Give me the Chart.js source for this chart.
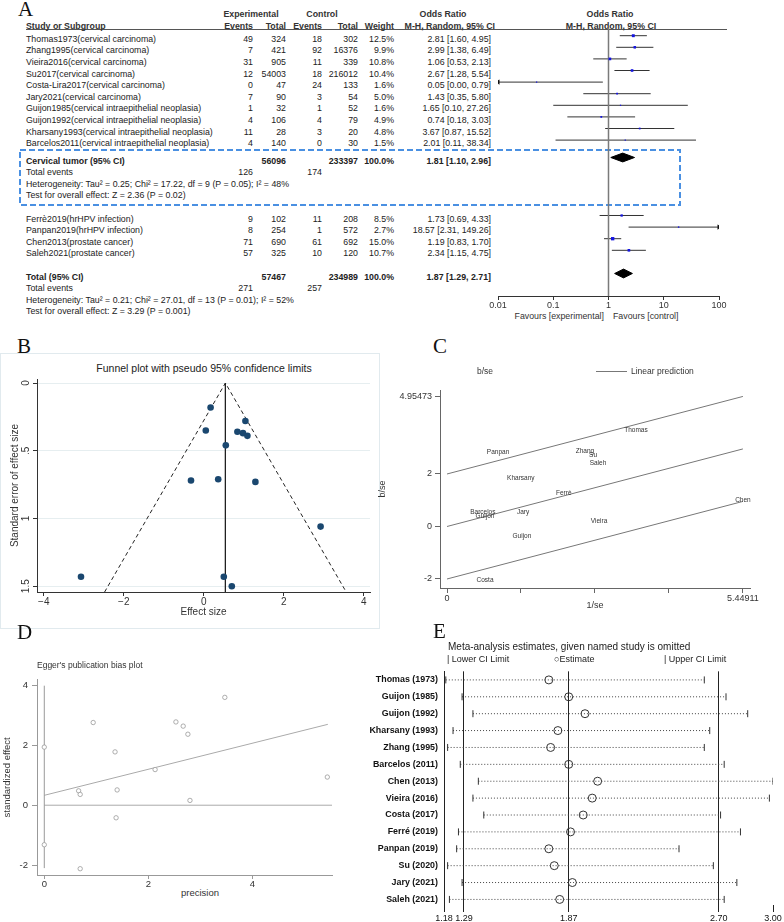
<!DOCTYPE html>
<html>
<head>
<meta charset="utf-8">
<script src="https://cdn.jsdelivr.net/npm/chart.js@4.4.1/dist/chart.umd.min.js"></script>
<style>
body { margin: 0; width: 784px; height: 922px; position: relative; overflow: hidden; background: #fff; font-family: 'Liberation Sans', Arial, sans-serif; }
canvas { position: absolute; }
.t { position: absolute; white-space: nowrap; line-height: 14px; font-size: 8.8px; color: #222; }
.letter { position: absolute; font-family: 'Liberation Serif', 'Times New Roman', serif; font-size: 21px; line-height: 22px; color: #111; }
</style>
</head>
<body>
<svg style="position:absolute;left:0;top:0" width="784" height="330">
  <rect x="20" y="150" width="660" height="55" fill="none" stroke="#4a90e2" stroke-width="2" stroke-dasharray="6 3"/>
</svg>
<div style="position:absolute;left:26px;top:29px;width:701px;height:1px;background:#555"></div>
<div style="position:absolute;left:0;top:353px;width:380px;height:276px;box-sizing:border-box;border:1px solid #e1eaee"></div>
<div style="position:absolute;left:596px;top:371px;width:31px;height:1px;background:#777"></div>
<script>
// ---------- A: forest plot ----------
const studies = ['Thomas1973(cervical carcinoma)', 'Zhang1995(cervical carcinoma)', 'Vieira2016(cervical carcinoma)',
  'Su2017(cervical carcinoma)', 'Costa-Lira2017(cervical carcinoma)', 'Jary2021(cervical carcinoma)',
  'Guijon1985(cervical intraepithelial neoplasia)', 'Guijon1992(cervical intraepithelial neoplasia)',
  'Kharsany1993(cervical intraepithelial neoplasia)', 'Barcelos2011(cervical intraepithelial neoplasia)',
  'Ferrè2019(hrHPV infection)', 'Panpan2019(hrHPV infection)', 'Chen2013(prostate cancer)', 'Saleh2021(prostate cancer)'];
const expEvents = [49, 7, 31, 12, 0, 7, 1, 4, 11, 4, 9, 8, 71, 57];
const expTotal = [324, 421, 905, 54003, 47, 90, 32, 106, 28, 140, 102, 254, 690, 325];
const ctlEvents = [18, 92, 11, 18, 24, 3, 1, 4, 3, 0, 11, 1, 61, 10];
const ctlTotal = [302, 16376, 339, 216012, 133, 54, 52, 79, 20, 30, 208, 572, 692, 120];
const weights = [12.5, 9.9, 10.8, 10.4, 1.6, 5.0, 1.6, 4.9, 4.8, 1.5, 8.5, 2.7, 15.0, 10.7];
const orEst = [2.81, 2.99, 1.06, 2.67, 0.05, 1.43, 1.65, 0.74, 3.67, 2.01, 1.73, 18.57, 1.19, 2.34];
const orLow = [1.60, 1.38, 0.53, 1.28, 0.00, 0.35, 0.10, 0.18, 0.87, 0.11, 0.69, 2.31, 0.83, 1.15];
const orHigh = [4.95, 6.49, 2.13, 5.54, 0.79, 5.80, 27.26, 3.03, 15.52, 38.34, 4.33, 149.26, 1.70, 4.75];
const cervicalCount = 10;

const pooledNames = ['Cervical tumor (95% CI)', 'Total (95% CI)'];
const pooledExpTotal = [56096, 57467];
const pooledCtlTotal = [233397, 234989];
const pooledWeight = [100.0, 100.0];
const pooledExpEvents = [126, 271];
const pooledCtlEvents = [174, 257];
const pooledOR = [1.81, 1.87];
const pooledLow = [1.10, 1.29];
const pooledHigh = [2.96, 2.71];
const heterogeneity = ['Heterogeneity: Tau² = 0.25; Chi² = 17.22, df = 9 (P = 0.05); I² = 48%',
  'Heterogeneity: Tau² = 0.21; Chi² = 27.01, df = 13 (P = 0.01); I² = 52%'];
const overallTest = ['Test for overall effect: Z = 2.36 (P = 0.02)', 'Test for overall effect: Z = 3.29 (P = 0.001)'];
const forestTicks = [0.01, 0.1, 1, 10, 100];

// ---------- B: funnel plot ----------
const funnelES = [0.17, 1.04, 0.05, 0.84, 0.98, 1.09, 0.55, -0.32, 0.36, 1.29, 2.92, -3.07, 0.50, 0.70];
const funnelSE = [0.18, 0.28, 0.35, 0.36, 0.37, 0.39, 0.46, 0.72, 0.71, 0.73, 1.06, 1.43, 1.43, 1.50];
const funnelCentre = 0.54;
const funnelLimitX = [-2.48, 3.56];
const funnelLimitSE = 1.543;
const funnelTicksX = [-4, -2, 0, 2, 4];
const funnelTicksY = [0, 0.5, 1, 1.5];

// ---------- C: Galbraith plot ----------
const galbraithNames = ['Thomas', 'Panpan', 'Zhang', 'Su', 'Saleh', 'Kharsany', 'Ferrè', 'Barcelos', 'Guijon', 'Jary', 'Vieira', 'Chen', 'Guijon', 'Costa'];
const galbraithX = [3.48, 0.94, 2.54, 2.69, 2.78, 1.36, 2.15, 0.66, 0.70, 1.40, 2.80, 5.45, 1.38, 0.70];
const galbraithY = [3.68, 2.83, 2.85, 2.70, 2.43, 1.84, 1.26, 0.54, 0.41, 0.56, 0.22, 1.01, -0.36, -2.06];
const predX = [0, 5.44911];
const predUpper = [2, 4.95473];
const predMid = [0, 2.955];
const predLower = [-2, 0.955];
const galbraithTicksX = [0, 1.36228, 2.72456, 4.08683, 5.44911];
const galbraithLabelledX = [0, 5.44911];
const galbraithTicksY = [-2, 0, 2, 4.95473];

// ---------- D: Egger plot ----------
const eggerPrecision = [0.94, 1.36, 0.66, 0.69, 1.40, 1.38, 0.69, 2.13, 2.53, 2.67, 2.76, 2.80, 3.47, 5.44];
const eggerEffect = [2.76, 1.78, 0.48, 0.36, 0.51, -0.42, -2.12, 1.19, 2.78, 2.64, 2.37, 0.16, 3.60, 0.94];
const eggerInterceptCI = [-1.32, 1.94];
const eggerFitX = [0, 5.45];
const eggerFitY = [0.33, 2.70];
const eggerVLine = [-2.10, 3.99];
const eggerZeroEnd = 5.53;
const eggerTicksX = [0, 2, 4];
const eggerTicksY = [-2, 0, 2, 4];

// ---------- E: leave-one-out ----------
const looNames = ['Thomas (1973)', 'Guijon (1985)', 'Guijon (1992)', 'Kharsany (1993)', 'Zhang (1995)', 'Barcelos (2011)',
  'Chen (2013)', 'Vieira (2016)', 'Costa (2017)', 'Ferré (2019)', 'Panpan (2019)', 'Su (2020)', 'Jary (2021)', 'Saleh (2021)'];
const looEst = [1.76, 1.87, 1.96, 1.81, 1.77, 1.87, 2.03, 2.00, 1.95, 1.88, 1.76, 1.79, 1.89, 1.82];
const looLow = [1.19, 1.28, 1.34, 1.23, 1.20, 1.27, 1.37, 1.34, 1.40, 1.26, 1.25, 1.20, 1.28, 1.21];
const looHigh = [2.62, 2.74, 2.86, 2.65, 2.62, 2.73, 3.00, 2.98, 2.71, 2.82, 2.48, 2.67, 2.80, 2.73];
const looTicks = [1.18, 1.29, 1.87, 2.70, 3.00];
const looRefLines = [1.29, 1.87, 2.70];

// ---------- helpers ----------
Chart.defaults.font.family = "'Liberation Sans', Arial, sans-serif";
Chart.defaults.color = '#333';

function txt(s, x, y, opt = {}) {
  const d = document.createElement('div');
  d.className = 't';
  d.textContent = s;
  d.style.left = x + 'px';
  d.style.top = (y - 7) + 'px';
  if (opt.align === 'right') d.style.transform = 'translateX(-100%)';
  if (opt.align === 'center') d.style.transform = 'translateX(-50%)';
  if (opt.bold) d.style.fontWeight = 'bold';
  if (opt.size) d.style.fontSize = opt.size + 'px';
  if (opt.color) d.style.color = opt.color;
  document.body.appendChild(d);
}
function letter(s, x, baseline) {
  const d = document.createElement('div');
  d.className = 'letter';
  d.textContent = s;
  d.style.left = x + 'px';
  d.style.top = (baseline - 18) + 'px';
  document.body.appendChild(d);
}
function makeCanvas(left, top, w, h) {
  const c = document.createElement('canvas');
  c.width = w; c.height = h;
  c.style.left = left + 'px'; c.style.top = top + 'px';
  document.body.appendChild(c);
  return c;
}
const seg = (x0, y0, x1, y1) => [{ x: x0, y: y0 }, { x: x1, y: y1 }];
// lines get order 1 so that markers (order 0) are drawn on top of them
function lineDs(data, color, width = 1, dash = []) {
  return { data, showLine: true, borderColor: color, borderWidth: width, borderDash: dash, pointRadius: 0, fill: false, order: 1 };
}
const fixTicks = vals => s => { s.ticks = vals.map(v => ({ value: v })); };
const base = { responsive: false, animation: false, events: [], plugins: { legend: { display: false }, tooltip: { enabled: false } } };

const rotatedYTicks = {
  id: 'rotatedYTicks',
  afterDraw(chart, args, opts) {
    if (!opts.show) return;
    const s = chart.scales.y, ctx = chart.ctx;
    ctx.save();
    ctx.font = "10px 'Liberation Sans', Arial";
    ctx.fillStyle = '#333';
    ctx.textAlign = 'center';
    ctx.textBaseline = 'bottom';
    s.ticks.forEach(t => {
      ctx.save();
      ctx.translate(s.right - 6, s.getPixelForValue(t.value));
      ctx.rotate(-Math.PI / 2);
      ctx.fillText(String(t.value).replace(/^0\./, '.'), 0, 0);
      ctx.restore();
    });
    ctx.restore();
  }
};
const pointLabels = {
  id: 'pointLabels',
  afterDatasetsDraw(chart, args, opts) {
    if (!opts.labels) return;
    const ctx = chart.ctx;
    const meta = chart.getDatasetMeta(opts.datasetIndex);
    ctx.save();
    ctx.font = "6.5px 'Liberation Sans', Arial";
    ctx.fillStyle = '#333';
    ctx.textAlign = 'center';
    ctx.textBaseline = 'middle';
    meta.data.forEach((p, i) => ctx.fillText(opts.labels[i], p.x, p.y));
    ctx.restore();
  }
};

// ---------- A: table text ----------
letter('A', 18, 16);
const rowY = r => 38.7 + 11.6 * r;
const rowOf = i => i < cervicalCount ? i : i + 5.5;
const pooledRow = [10.5, 20.5];
const fmt2 = v => v.toFixed(2);
const orText = (m, l, h) => `${fmt2(m)} [${fmt2(l)}, ${fmt2(h)}]`;

const hb = { bold: true, color: '#333' };
txt('Experimental', 251, 14, { ...hb, align: 'center' });
txt('Control', 322, 14, { ...hb, align: 'center' });
txt('Odds Ratio', 443, 14, { ...hb, align: 'center' });
txt('Odds Ratio', 610, 14, { ...hb, align: 'center' });
txt('Study or Subgroup', 26, 26, hb);
txt('Events', 253, 26, { ...hb, align: 'right' });
txt('Total', 286, 26, { ...hb, align: 'right' });
txt('Events', 322, 26, { ...hb, align: 'right' });
txt('Total', 358, 26, { ...hb, align: 'right' });
txt('Weight', 394, 26, { ...hb, align: 'right' });
txt('M-H, Random, 95% CI', 495, 26, { ...hb, align: 'right' });
txt('M-H, Random, 95% CI', 611, 26, { ...hb, align: 'center' });

studies.forEach((name, i) => {
  const y = rowY(rowOf(i));
  txt(name, 26, y);
  txt(String(expEvents[i]), 253, y, { align: 'right' });
  txt(String(expTotal[i]), 286, y, { align: 'right' });
  txt(String(ctlEvents[i]), 322, y, { align: 'right' });
  txt(String(ctlTotal[i]), 358, y, { align: 'right' });
  txt(weights[i].toFixed(1) + '%', 394, y, { align: 'right' });
  txt(orText(orEst[i], orLow[i], orHigh[i]), 491, y, { align: 'right' });
});
pooledNames.forEach((name, k) => {
  const r = pooledRow[k];
  txt(name, 26, rowY(r), { bold: true });
  txt(String(pooledExpTotal[k]), 286, rowY(r), { align: 'right', bold: true });
  txt(String(pooledCtlTotal[k]), 358, rowY(r), { align: 'right', bold: true });
  txt(pooledWeight[k].toFixed(1) + '%', 394, rowY(r), { align: 'right', bold: true });
  txt(orText(pooledOR[k], pooledLow[k], pooledHigh[k]), 491, rowY(r), { align: 'right', bold: true });
  txt('Total events', 26, rowY(r + 1));
  txt(String(pooledExpEvents[k]), 253, rowY(r + 1), { align: 'right' });
  txt(String(pooledCtlEvents[k]), 322, rowY(r + 1), { align: 'right' });
  txt(heterogeneity[k], 26, rowY(r + 2));
  txt(overallTest[k], 26, rowY(r + 3));
});
txt('Favours [experimental]', 604, 316, { align: 'right', color: '#333' });
txt('Favours [control]', 613, 316, { color: '#333' });

// ---------- A: forest chart ----------
const fMin = forestTicks[0], fMax = forestTicks[forestTicks.length - 1];
const forestYMin = -0.664, forestYMax = 22.44;
const forestDs = [lineDs(seg(1, forestYMin, 1, forestYMax), '#7a7a7a', 1.5)];
studies.forEach((s, i) => forestDs.push(
  lineDs(seg(Math.max(orLow[i], fMin), rowOf(i), Math.min(orHigh[i], fMax), rowOf(i)), '#333', 1)));
forestDs.push({
  data: studies.map((s, i) => ({ x: orEst[i], y: rowOf(i) })),
  pointStyle: 'rect', pointRadius: weights.map(w => 0.7 + w * 0.11),
  backgroundColor: '#1414e0', borderWidth: 0
});
const clipped = studies.map((s, i) => i).filter(i => orLow[i] < fMin || orHigh[i] > fMax);
forestDs.push({
  data: clipped.map(i => ({ x: orLow[i] < fMin ? fMin : fMax, y: rowOf(i) })),
  pointStyle: 'triangle', pointRotation: clipped.map(i => orLow[i] < fMin ? -90 : 90),
  pointRadius: 3, backgroundColor: '#111', borderWidth: 0
});
pooledOR.forEach((m, k) => {
  const r = pooledRow[k];
  forestDs.push({
    data: [{ x: pooledLow[k], y: r }, { x: m, y: r - 0.38 }, { x: pooledHigh[k], y: r }, { x: m, y: r + 0.38 }, { x: pooledLow[k], y: r }],
    showLine: true, fill: 'shape', backgroundColor: '#000', borderColor: '#000', borderWidth: 1, pointRadius: 0
  });
});
new Chart(makeCanvas(488, 24, 245, 294), {
  type: 'scatter',
  data: { datasets: forestDs },
  options: {
    ...base,
    layout: { padding: { left: 10, right: 14, top: 4, bottom: 2 } },
    scales: {
      x: {
        type: 'logarithmic', min: fMin, max: fMax,
        afterBuildTicks: fixTicks(forestTicks), afterFit: s => { s.height = 20; },
        ticks: { callback: v => String(v), font: { size: 9 }, color: '#333', padding: 0, autoSkip: false, maxRotation: 0 },
        grid: { drawOnChartArea: false, tickLength: 4, tickColor: '#333' },
        border: { color: '#333' }
      },
      y: { type: 'linear', reverse: true, min: forestYMin, max: forestYMax, display: false }
    }
  }
});

// ---------- B: funnel ----------
letter('B', 17, 353);
txt('Funnel plot with pseudo 95% confidence limits', 204, 368, { align: 'center', size: 10.5 });
new Chart(makeCanvas(0, 353, 380, 276), {
  type: 'scatter',
  data: {
    datasets: [
      { data: funnelES.map((v, i) => ({ x: v, y: funnelSE[i] })), pointRadius: 3.3, backgroundColor: '#1a476f', borderWidth: 0 },
      lineDs(seg(funnelCentre, 0, funnelCentre, funnelLimitSE), '#222', 1),
      lineDs([{ x: funnelLimitX[0], y: funnelLimitSE }, { x: funnelCentre, y: 0 }, { x: funnelLimitX[1], y: funnelLimitSE }], '#222', 1, [4, 3])
    ]
  },
  options: {
    ...base,
    layout: { padding: { left: 0, top: 26, right: 10, bottom: 8 } },
    plugins: { ...base.plugins, rotatedYTicks: { show: true } },
    scales: {
      x: {
        min: -4.17, max: 4.155, afterBuildTicks: fixTicks(funnelTicksX), afterFit: s => { s.height = 29; },
        ticks: { callback: v => v < 0 ? '\u2212' + (-v) : String(v), font: { size: 10 }, padding: 0, autoSkip: false, maxRotation: 0 },
        grid: { drawOnChartArea: false, tickLength: 4, tickColor: '#333' },
        border: { color: '#333' },
        title: { display: true, text: 'Effect size', font: { size: 10 }, padding: { top: 0, bottom: 3 } }
      },
      y: {
        reverse: true, min: -0.03, max: 1.543, afterBuildTicks: fixTicks(funnelTicksY), afterFit: s => { s.width = 37; },
        ticks: { display: false },
        grid: { color: '#e6eef0', tickLength: 4, tickColor: '#333' },
        border: { color: '#333' },
        title: { display: true, text: 'Standard error of effect size', font: { size: 10 }, padding: { top: 9, bottom: 0 } }
      }
    }
  },
  plugins: [rotatedYTicks]
});

// ---------- C: Galbraith ----------
letter('C', 433, 353);
txt('b/se', 477, 371, { size: 8.5, color: '#333' });
txt('Linear prediction', 631, 371, { size: 8.5, color: '#333' });
new Chart(makeCanvas(375, 380, 409, 240), {
  type: 'scatter',
  data: {
    datasets: [
      { data: galbraithX.map((v, i) => ({ x: v, y: galbraithY[i] })), pointRadius: 0 },
      lineDs(seg(predX[0], predUpper[0], predX[1], predUpper[1]), '#777', 1),
      lineDs(seg(predX[0], predMid[0], predX[1], predMid[1]), '#777', 1),
      lineDs(seg(predX[0], predLower[0], predX[1], predLower[1]), '#777', 1)
    ]
  },
  options: {
    ...base,
    layout: { padding: { left: 0, top: 10, right: 34, bottom: 0 } },
    plugins: { ...base.plugins, pointLabels: { labels: galbraithNames, datasetIndex: 0 } },
    scales: {
      x: {
        min: -0.129, max: 5.58, afterBuildTicks: fixTicks(galbraithTicksX), afterFit: s => { s.height = 32; },
        ticks: { callback: v => galbraithLabelledX.includes(v) ? String(v) : '', font: { size: 9 }, padding: 0, autoSkip: false, maxRotation: 0 },
        grid: { drawOnChartArea: false, tickLength: 5, tickColor: '#666' },
        border: { color: '#666' },
        title: { display: true, text: '1/se', font: { size: 9 }, padding: { top: 0, bottom: 8.6 } }
      },
      y: {
        min: -2.343, max: 5.2, afterBuildTicks: fixTicks(galbraithTicksY), afterFit: s => { s.width = 65; },
        ticks: { callback: v => String(v), font: { size: 9 }, padding: 3, autoSkip: false },
        grid: { drawOnChartArea: false, tickLength: 5, tickColor: '#666' },
        border: { color: '#666' },
        title: { display: true, text: 'b/se', font: { size: 9 }, padding: { top: 2.6, bottom: 0 } }
      }
    }
  },
  plugins: [pointLabels]
});

// ---------- D: Egger ----------
letter('D', 17, 639);
txt("Egger's publication bias plot", 37, 665, { size: 8.5, color: '#333' });
txt('precision', 200, 893, { align: 'center', size: 9.5, color: '#333' });
const hollow = { pointRadius: 2.2, pointStyle: 'circle', borderColor: '#999', borderWidth: 0.8, backgroundColor: '#fff' };
new Chart(makeCanvas(0, 670, 345, 235), {
  type: 'scatter',
  data: {
    datasets: [
      { data: eggerPrecision.map((v, i) => ({ x: v, y: eggerEffect[i] })), ...hollow },
      { data: eggerInterceptCI.map(v => ({ x: 0, y: v })), ...hollow },
      lineDs(seg(0, eggerVLine[0], 0, eggerVLine[1]), '#999', 1),
      lineDs(seg(0, 0, eggerZeroEnd, 0), '#aaa', 1),
      lineDs(seg(eggerFitX[0], eggerFitY[0], eggerFitX[1], eggerFitY[1]), '#aaa', 1)
    ]
  },
  options: {
    ...base,
    layout: { padding: { left: 0, top: 7, right: 13, bottom: 0 } },
    scales: {
      x: {
        min: -0.14, max: 5.53, afterBuildTicks: fixTicks(eggerTicksX), afterFit: s => { s.height = 30; },
        ticks: { font: { size: 9.5 }, padding: 0, autoSkip: false, maxRotation: 0 },
        grid: { drawOnChartArea: false, tickLength: 4, tickColor: '#999' },
        border: { color: '#999' }
      },
      y: {
        min: -2.33, max: 4.19, afterBuildTicks: fixTicks(eggerTicksY), afterFit: s => { s.width = 37; },
        ticks: { font: { size: 9.5 }, padding: 4, autoSkip: false },
        grid: { drawOnChartArea: false, tickLength: 5, tickColor: '#999' },
        border: { color: '#999' },
        title: { display: true, text: 'standardized effect', font: { size: 9.5 }, padding: { top: 2, bottom: 0 } }
      }
    }
  }
});

// ---------- E: leave-one-out ----------
letter('E', 433, 638);
txt('Meta-analysis estimates, given named study is omitted', 448, 647, { size: 10 });
txt('| Lower CI Limit', 447, 659, { size: 9 });
txt('\u25CBEstimate', 554, 659, { size: 9 });
txt('| Upper CI Limit', 664, 659, { size: 9 });
const looDs = [
  {
    data: looEst.map((v, i) => ({ x: v, y: i })),
    pointStyle: 'circle', pointRadius: 4, borderColor: '#333', borderWidth: 1, backgroundColor: 'rgba(0,0,0,0)'
  },
  {
    data: looLow.map((v, i) => ({ x: v, y: i })).concat(looHigh.map((v, i) => ({ x: v, y: i }))),
    pointStyle: 'line', pointRotation: 90, pointRadius: 3.5, borderColor: '#333', borderWidth: 1
  }
];
looNames.forEach((n, i) => looDs.push(lineDs(seg(looLow[i], i, looHigh[i], i), '#444', 1, [1, 2])));
new Chart(makeCanvas(364, 660, 420, 262), {
  type: 'scatter',
  data: { datasets: looDs },
  options: {
    ...base,
    layout: { padding: { left: 0, top: 8, right: 11, bottom: 0 } },
    scales: {
      x: {
        min: looTicks[0], max: looTicks[looTicks.length - 1], afterBuildTicks: fixTicks(looTicks), afterFit: s => { s.height = 17; },
        ticks: { callback: v => v.toFixed(2), font: { size: 9 }, color: '#111', padding: 1, autoSkip: false, maxRotation: 0 },
        grid: { color: c => looRefLines.includes(c.tick && c.tick.value) ? '#222' : 'rgba(0,0,0,0)', tickColor: '#222', tickLength: 7 },
        border: { display: false }
      },
      y: {
        reverse: true, min: -0.508, max: 13.33, afterBuildTicks: fixTicks(looNames.map((n, i) => i)), afterFit: s => { s.width = 80; },
        ticks: { callback: v => looNames[v], font: { size: 8.9, weight: 'bold' }, color: '#111', padding: 6, autoSkip: false },
        grid: { drawOnChartArea: false, drawTicks: false },
        border: { color: '#222' }
      }
    }
  }
});
</script>
</body>
</html>
